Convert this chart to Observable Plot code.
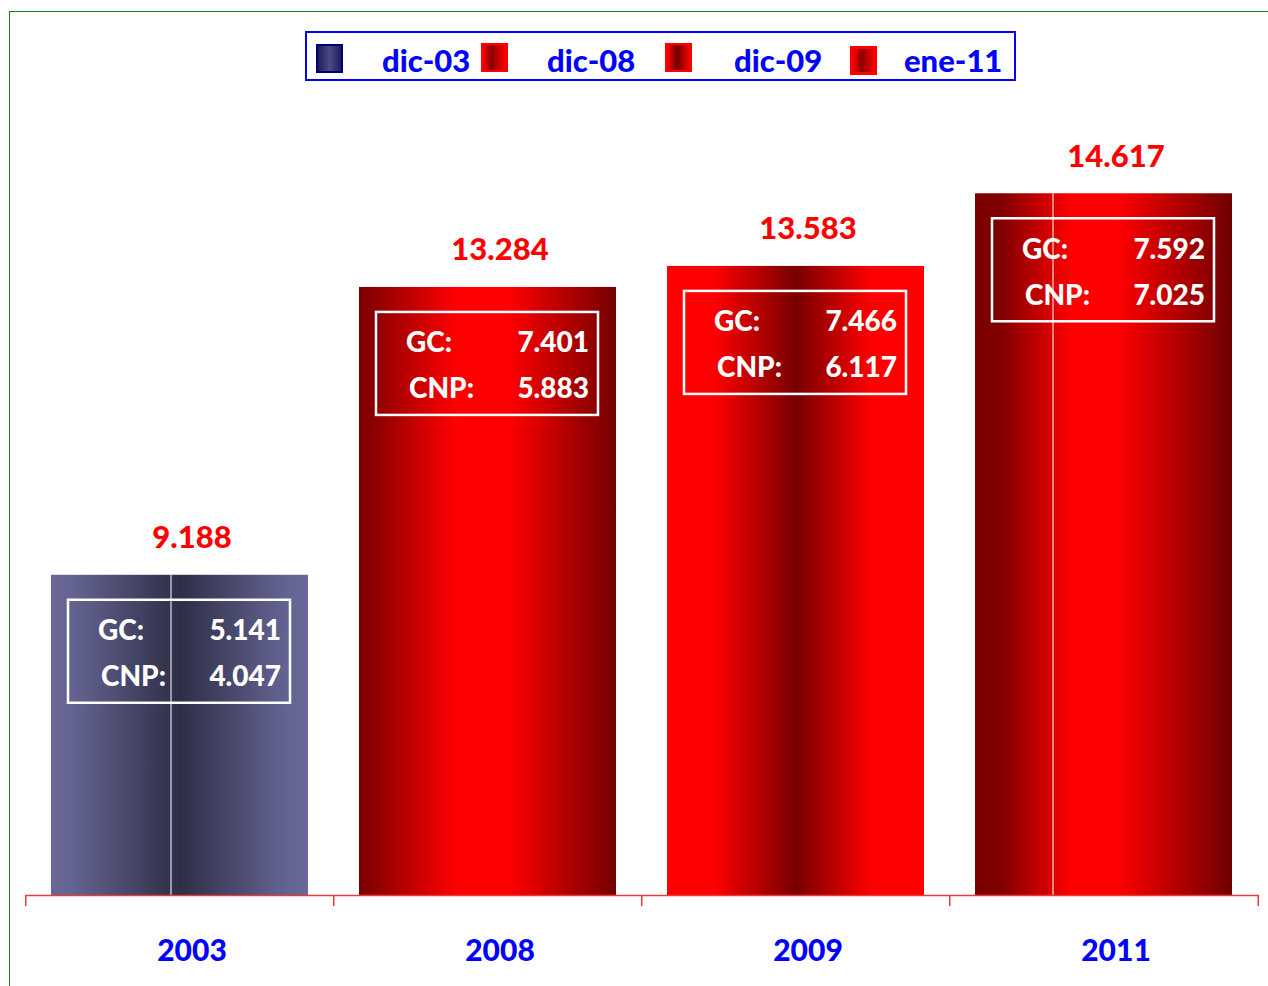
<!DOCTYPE html>
<html><head><meta charset="utf-8">
<script src="https://cdn.jsdelivr.net/npm/d3@7"></script>
<script src="https://cdn.jsdelivr.net/npm/@observablehq/plot@0.6"></script>
<style>
html,body{margin:0;padding:0;background:#fff;}
#wrap{position:relative;width:1268px;height:986px;overflow:hidden;font-family:Lato,"Open Sans",sans-serif;}
.frameTop{position:absolute;left:9px;top:11px;right:0;height:1px;background:#1d7a1d;}
.frameLeft{position:absolute;left:9px;top:11px;bottom:0;width:1px;background:#1d7a1d;}
#legend{position:absolute;left:305px;top:31px;width:707px;height:46px;border:2px solid #0000ff;background:#fff;}
#legend .sw{position:absolute;box-sizing:border-box;width:27px;height:29px;}
#legend .lb{position:absolute;top:27px;transform:translateY(-50%);color:#0000ff;font-weight:900;font-size:31px;line-height:1;white-space:nowrap;}
#chart{position:absolute;left:0;top:90px;}
</style>
</head><body>
<div id="wrap">
  <div class="frameTop"></div><div class="frameLeft"></div>
  <div id="legend"></div>
  <div id="chart"></div>
</div>
<script>
// ---- data ----
const years = ["2003", "2008", "2009", "2011"];
const totals = [9188, 13284, 13583, 14617];
const gcValues = [5141, 7401, 7466, 7592];
const cnpValues = [4047, 5883, 6117, 7025];
const legendLabels = ["dic-03", "dic-08", "dic-09", "ene-11"];
const rowLabels = ["GC:", "CNP:"];

const fmt = d3.formatLocale({decimal: ",", thousands: ".", grouping: [3], currency: ["", "€"]}).format(",");
const data = years.map((year, i) => ({year, total: totals[i], gc: gcValues[i], cnp: cnpValues[i]}));

// ---- legend (HTML) ----
const legendSwatchStyles = [
  "border:2px solid #000070;background:linear-gradient(to right,#1c1c62,#4a4a84 50%,#1c1c62);",
  "border:2px solid #ff0000;background:linear-gradient(to right,#ff0000,#8a0000 35%,#c00000 65%,#ff0000);",
  "border:2px solid #ff0000;background:linear-gradient(to right,#ff0000,#700000 45%,#ff0000);",
  "border:3px solid #ff0000;background:linear-gradient(to right,#ff0000,#8b0000 40%,#d00000 80%,#ff0000);"
];
const swLeft = [9, 174, 358, 543], swTop = [11, 10, 10, 13];
const lbLeft = [75, 240, 427, 597];
const legend = document.getElementById("legend");
legendLabels.forEach((t, i) => {
  const s = document.createElement("div");
  s.className = "sw";
  s.style.cssText = legendSwatchStyles[i] + `left:${swLeft[i]}px;top:${swTop[i]}px;`;
  legend.appendChild(s);
  const l = document.createElement("div");
  l.className = "lb";
  l.style.left = lbLeft[i] + "px";
  l.textContent = t;
  legend.appendChild(l);
});

// ---- chart ----
const W = 1268, H = 896, mTop = 20, mBottom = 91, mLeft = 25, mRight = 9;
const yDomain = [4631, 15802];
const unitsPerPx = (yDomain[1] - yDomain[0]) / (H - mTop - mBottom);
const step = (W - mLeft - mRight) / years.length;
const axisColor = "#e83a3a";
const heavy = 900;

const marks = [];
data.forEach(d => marks.push(Plot.barY([d], {x: "year", y1: () => yDomain[0], y2: "total", fill: `url(#grad${d.year})`})));
marks.push(
  // thin white split lines visible inside the first and last bars
  Plot.ruleX(data.slice(0, 1), {x: "year", dx: -9, y1: () => yDomain[0], y2: "total", stroke: "white", strokeWidth: 1}),
  Plot.ruleX(data.slice(-1), {x: "year", dx: -51, y1: () => yDomain[0], y2: "total", stroke: "white", strokeWidth: 1}),
  Plot.barY(data, {x: "year", y1: "total", y2: "total", fill: "none", stroke: "white", strokeWidth: 2.5,
    insetTop: 25, insetBottom: -128, insetLeft: 17, insetRight: 18}),
  Plot.ruleY([yDomain[0]], {stroke: axisColor, strokeWidth: 1.5}),
  Plot.ruleX(data, {x: "year", dx: -step / 2, y1: () => yDomain[0], y2: () => yDomain[0] - 11 * unitsPerPx, stroke: axisColor, strokeWidth: 1.5}),
  Plot.ruleX(data.slice(-1), {x: "year", dx: step / 2, y1: () => yDomain[0], y2: () => yDomain[0] - 11 * unitsPerPx, stroke: axisColor, strokeWidth: 1.5}),
  Plot.text(data, {x: "year", y: "total", text: d => fmt(d.total), dy: -37, dx: 12, fill: "#ff0000", fontSize: 31, fontWeight: heavy}),
  Plot.text(data, {x: "year", y: "total", text: () => rowLabels[0], textAnchor: "start", dx: -82, dy: 56, fill: "white", fontSize: 28, fontWeight: heavy}),
  Plot.text(data, {x: "year", y: "total", text: () => rowLabels[1], textAnchor: "start", dx: -79, dy: 102, fill: "white", fontSize: 28, fontWeight: heavy}),
  Plot.text(data, {x: "year", y: "total", text: d => fmt(d.gc), textAnchor: "end", dx: 101, dy: 56, fill: "white", fontSize: 28, fontWeight: heavy}),
  Plot.text(data, {x: "year", y: "total", text: d => fmt(d.cnp), textAnchor: "end", dx: 101, dy: 102, fill: "white", fontSize: 28, fontWeight: heavy}),
  Plot.text(data, {x: "year", y: () => yDomain[0], text: "year", dy: 56, dx: 12, fill: "#0000ff", fontSize: 30, fontWeight: heavy})
);

const chart = Plot.plot({
  width: W, height: H,
  marginTop: mTop, marginBottom: mBottom, marginLeft: mLeft, marginRight: mRight,
  x: {type: "band", domain: years, paddingInner: 0.164, paddingOuter: 0.082, axis: null},
  y: {domain: yDomain, axis: null},
  style: {fontFamily: "Lato, 'Open Sans', sans-serif", background: "transparent", overflow: "visible"},
  marks
});

// gradient definitions for the bar fills
const gradients = {
  "2003": [[0, "#686898"], [0.08, "#646492"], [0.5, "#2e2e46"], [0.92, "#646494"], [1, "#68689a"]],
  "2008": [[0, "#780000"], [0.38, "#ff0000"], [0.58, "#ff0000"], [1, "#730000"]],
  "2009": [[0, "#ff0000"], [0.18, "#ff0000"], [0.5, "#780000"], [0.8, "#ff0000"], [1, "#ff0000"]],
  "2011": [[0, "#7a0000"], [0.1, "#800000"], [0.38, "#ff0000"], [0.55, "#ff0000"], [1, "#700000"]]
};
const ns = "http://www.w3.org/2000/svg";
const defs = document.createElementNS(ns, "defs");
for (const [k, stops] of Object.entries(gradients)) {
  const g = document.createElementNS(ns, "linearGradient");
  g.setAttribute("id", "grad" + k);
  g.setAttribute("x1", "0"); g.setAttribute("x2", "1"); g.setAttribute("y1", "0"); g.setAttribute("y2", "0");
  for (const [o, c] of stops) {
    const s = document.createElementNS(ns, "stop");
    s.setAttribute("offset", o);
    s.setAttribute("stop-color", c);
    g.appendChild(s);
  }
  defs.appendChild(g);
}
chart.insertBefore(defs, chart.firstChild);
document.getElementById("chart").appendChild(chart);
</script>
</body></html>
